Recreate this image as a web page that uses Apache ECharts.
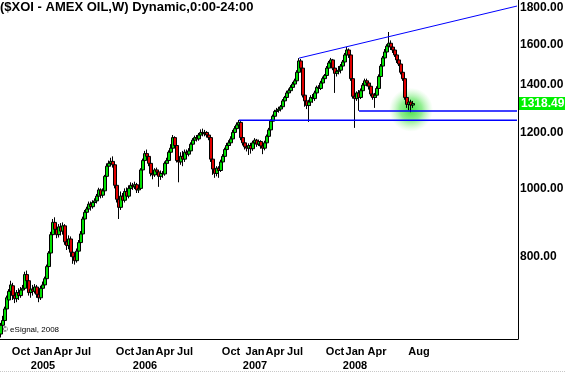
<!DOCTYPE html>
<html><head><meta charset="utf-8">
<script src="https://cdn.jsdelivr.net/npm/echarts@6/dist/echarts.min.js"></script>
<style>html,body{margin:0;padding:0;background:#fff}#c{width:565px;height:373px}</style>
</head><body><div id="c"></div>
<script>
// Weekly OHLC values (index 0 = first week shown)
const opens = [622,640,650,675,695,715,728,705,698,712,705,718,722,755,740,712,720,715,725,708,
700,722,730,745,775,810,860,895,875,860,882,870,885,840,830,848,812,800,790,815,
838,862,905,925,935,950,942,955,960,975,995,978,992,1040,1075,1085,1092,1080,1010,965,
940,975,962,990,975,1000,1010,1005,1012,995,1000,1062,1095,1120,1110,1085,1050,1045,1062,1055,
1040,1050,1048,1085,1095,1125,1140,1180,1150,1095,1090,1110,1100,1125,1118,1130,1155,1170,1180,1175,
1190,1200,1195,1200,1190,1180,1100,1065,1050,1068,1060,1090,1110,1135,1150,1160,1175,1200,1215,1230,
1240,1180,1160,1145,1140,1150,1138,1160,1170,1155,1165,1148,1140,1160,1185,1210,1245,1265,1285,1290,
1295,1305,1330,1345,1365,1375,1390,1405,1420,1460,1515,1480,1355,1330,1310,1325,1345,1340,1365,1390,
1385,1410,1430,1445,1480,1505,1520,1480,1455,1465,1470,1490,1510,1545,1570,1545,1430,1350,1340,1365,
1345,1375,1400,1420,1410,1395,1360,1345,1355,1385,1440,1490,1530,1560,1590,1605,1585,1570,1545,1520,
1500,1460,1430,1345,1315,1325,1312];
const closes = [640,650,675,700,715,730,705,698,712,705,718,722,755,740,712,720,715,725,708,700,
722,730,745,775,810,860,895,875,860,882,870,885,840,830,848,812,800,790,815,838,
862,905,925,935,950,942,955,960,975,995,978,992,1040,1075,1085,1092,1080,1010,965,940,
975,962,990,975,1000,1010,1005,1012,995,1000,1062,1095,1120,1110,1085,1050,1045,1062,1055,1040,
1050,1048,1085,1095,1125,1140,1180,1150,1095,1090,1110,1100,1125,1118,1130,1155,1170,1180,1175,1190,
1200,1195,1200,1190,1180,1100,1065,1050,1068,1060,1090,1110,1135,1150,1160,1175,1200,1215,1230,1240,
1180,1160,1145,1140,1150,1138,1160,1170,1155,1165,1148,1140,1160,1185,1210,1245,1265,1285,1290,1295,
1305,1330,1345,1365,1375,1390,1405,1420,1460,1515,1480,1355,1330,1310,1325,1345,1340,1365,1390,1385,
1410,1430,1445,1480,1505,1520,1480,1455,1465,1470,1490,1510,1545,1570,1545,1430,1350,1340,1365,1345,
1375,1400,1420,1410,1395,1360,1345,1355,1385,1440,1490,1530,1560,1590,1605,1585,1570,1545,1520,1500,
1460,1430,1345,1315,1325,1312,1318.49];
const lows = [615,632,645,665,690,705,695,688,690,695,700,708,718,730,705,700,705,710,700,690,
695,715,725,740,770,805,850,865,850,852,858,860,832,818,820,800,782,780,785,808,
830,858,898,918,928,930,936,945,952,968,968,970,988,1035,1065,1075,1070,1000,955,905,
932,948,955,965,968,992,995,998,985,985,995,1055,1085,1098,1075,1040,1030,1038,1045,1005,
1028,1035,1042,1075,1085,1115,1130,1140,1088,1020,1080,1075,1090,1105,1110,1120,1148,1160,1165,1168,
1180,1185,1185,1180,1170,1090,1045,1035,1040,1035,1055,1080,1100,1125,1140,1150,1165,1190,1205,1220,
1170,1150,1135,1128,1115,1120,1130,1150,1145,1148,1138,1118,1132,1152,1178,1200,1235,1255,1275,1280,
1285,1298,1320,1335,1355,1365,1380,1395,1410,1452,1470,1345,1305,1295,1242,1310,1322,1330,1355,1370,
1378,1400,1420,1435,1470,1495,1470,1365,1440,1450,1455,1480,1500,1535,1530,1420,1340,1218,1330,1288,
1338,1365,1390,1395,1380,1350,1335,1300,1345,1375,1430,1480,1520,1550,1575,1570,1555,1535,1505,1490,
1450,1420,1335,1300,1290,1282,1300];
const highs = [645,660,680,705,720,740,735,712,718,722,725,730,762,765,745,728,730,732,730,715,
728,738,750,780,815,868,905,910,885,890,893,895,890,852,858,855,820,808,822,845,
870,912,932,942,958,958,962,968,982,1002,1000,1000,1045,1085,1095,1105,1110,1090,1020,975,
990,985,1000,1003,1010,1020,1018,1022,1018,1008,1068,1102,1130,1135,1118,1092,1060,1068,1070,1062,
1060,1058,1092,1105,1132,1155,1190,1185,1158,1105,1125,1130,1135,1135,1140,1162,1178,1188,1190,1198,
1212,1215,1210,1205,1198,1185,1108,1075,1075,1075,1098,1118,1142,1160,1170,1185,1210,1225,1240,1250,
1245,1188,1170,1155,1158,1160,1168,1178,1175,1172,1170,1155,1168,1192,1218,1252,1272,1292,1300,1305,
1312,1338,1352,1375,1385,1400,1415,1430,1470,1529,1525,1490,1365,1345,1335,1355,1360,1375,1398,1400,
1420,1440,1452,1490,1515,1530,1525,1490,1480,1490,1500,1520,1555,1586,1578,1552,1440,1370,1372,1378,
1385,1410,1430,1430,1418,1400,1372,1365,1395,1450,1500,1540,1575,1600,1665,1620,1600,1585,1555,1530,
1510,1470,1440,1375,1335,1335,1330];

// Axis labels / ticks
const yTickValues = [800, 1000, 1200, 1400, 1600, 1800];
const xTickLabels = [[10,'Oct'],[21,'Jan\n2005'],[31,'Apr'],[41,'Jul'],[62,'Oct'],[72,'Jan\n2006'],[82,'Apr'],[92,'Jul'],
  [115,'Oct'],[127,'Jan\n2007'],[137,'Apr'],[147,'Jul'],[167,'Oct'],[177,'Jan\n2008'],[188,'Apr'],[209,'Aug']];
const lastPrice = 1318.49;

// Drawn trend lines [week index, price]
const resistanceLine = [[149, 1529], [258, 1812]];
const supportHigh = [[179, 1287], [258, 1287]];
const supportLow = [[119, 1249], [258, 1249]];
const glowPoint = [[205, 1292]];

const totalWeeks = 259;
const categories = [];
{
  const d = new Date(Date.UTC(2004, 6, 16));
  for (let i = 0; i < totalWeeks; i++) {
    categories.push(d.toISOString().slice(0, 10));
    d.setUTCDate(d.getUTCDate() + 7);
  }
}
const labelMap = {};
xTickLabels.forEach(([i, t]) => { labelMap[i] = t; });
const candleData = opens.map((o, i) => [o, closes[i], lows[i], highs[i]]);

const FONT = "'Liberation Sans', Arial, sans-serif";
const chart = echarts.init(document.getElementById('c'), null, { renderer: 'canvas' });
chart.setOption({
  animation: false,
  backgroundColor: '#fff',
  title: {
    text: '($XOI - AMEX OIL,W) Dynamic,0:00-24:00',
    left: 0, top: 1, padding: 0,
    textStyle: { fontFamily: FONT, fontSize: 13, fontWeight: 'bold', color: '#000' }
  },
  graphic: [
    { type: 'text', left: 2, top: 326, style: { text: '\u00a9 eSignal, 2008', font: '8px ' + FONT, fill: '#000' } },
    { type: 'line', shape: { x1: 0, y1: 371.5, x2: 565, y2: 371.5 }, style: { stroke: '#c8c8c8', lineWidth: 1, lineDash: [1, 1] } }
  ],
  grid: { left: 0, right: 47, top: 0, bottom: 34, containLabel: false, outerBoundsMode: 'none' },
  xAxis: {
    type: 'category', data: categories, boundaryGap: true,
    axisLine: { show: true, lineStyle: { color: '#000', width: 1 } },
    axisTick: { show: false },
    splitLine: { show: false },
    axisLabel: {
      interval: (idx) => labelMap[idx] !== undefined,
      formatter: (v, idx) => labelMap[idx] || '',
      hideOverlap: false,
      color: '#000', fontFamily: FONT, fontSize: 11, fontWeight: 'bold', lineHeight: 14, margin: 6
    }
  },
  yAxis: {
    type: 'log', logBase: 10, position: 'right', min: 612, max: 1848,
    axisLine: { show: true, lineStyle: { color: '#000', width: 1 } },
    axisTick: { show: false },
    axisLabel: { show: false },
    splitLine: { show: false }
  },
  series: [
    {
      type: 'scatter', data: glowPoint, symbolSize: 44, z: 1, silent: true,
      itemStyle: {
        color: { type: 'radial', x: 0.5, y: 0.5, r: 0.5, colorStops: [
          { offset: 0, color: 'rgba(20,215,20,1)' },
          { offset: 0.5, color: 'rgba(60,225,60,0.7)' },
          { offset: 1, color: 'rgba(140,240,140,0)' }] }
      }
    },
    {
      type: 'candlestick', data: candleData, barWidth: 4, z: 3, silent: true,
      itemStyle: { color: '#00e000', color0: '#e00000', borderColor: '#000', borderColor0: '#000', borderWidth: 1 }
    },
    {
      type: 'line', data: [], z: 5, silent: true,
      markLine: {
        silent: true, symbol: ['none', 'none'], animation: false,
        lineStyle: { color: 'rgba(255,255,255,0)', width: 1, type: 'solid' },
        emphasis: { disabled: true },
        label: { show: true, position: 'end', distance: 2, color: '#000', fontFamily: FONT, fontSize: 12, fontWeight: 'bold' },
        data: yTickValues.map(v => ({ yAxis: v, label: { formatter: v.toFixed(2) } })).concat([
          { yAxis: lastPrice, label: { formatter: lastPrice.toFixed(2), color: '#fff', backgroundColor: '#00f000', padding: [1, 3, 0, 2], distance: 1 } }
        ])
      }
    },
    { type: 'line', data: resistanceLine, symbol: 'none', z: 4, silent: true, lineStyle: { color: '#0000ff', width: 1 } },
    { type: 'line', data: supportHigh, symbol: 'none', z: 4, silent: true, lineStyle: { color: '#0000ff', width: 1.5 } },
    { type: 'line', data: supportLow, symbol: 'none', z: 4, silent: true, lineStyle: { color: '#0000ff', width: 1.5 } }
  ]
});
</script>
</body></html>
